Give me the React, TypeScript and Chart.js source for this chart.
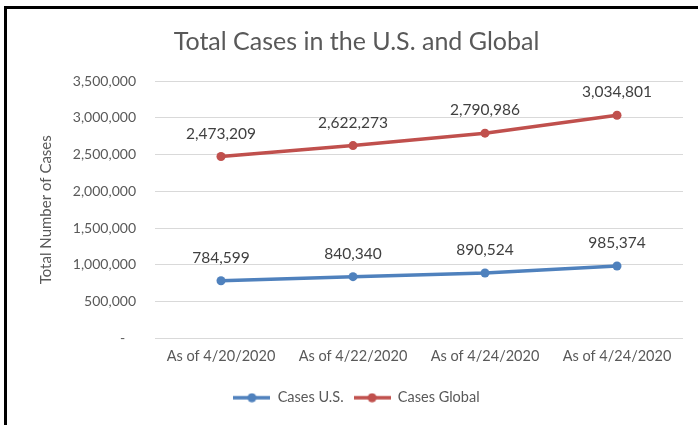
import React, { useEffect, useRef } from "react";
import { Chart, registerables } from "chart.js";

Chart.register(...registerables);

const categories = ["As of 4/20/2020", "As of 4/22/2020", "As of 4/24/2020", "As of 4/24/2020"];
const casesUS = [784599, 840340, 890524, 985374];
const casesGlobal = [2473209, 2622273, 2790986, 3034801];
const seriesNames = ["Cases U.S.", "Cases Global"];
const seriesColors = ["#4F81BD", "#C0504D"];
const chartTitle = "Total Cases in the U.S. and Global";
const yTitle = "Total Number of Cases";

const FONT = "Lato, 'Open Sans', sans-serif";

function makeMarker(color: string): HTMLCanvasElement {
  const c = document.createElement("canvas");
  c.width = 37;
  c.height = 10;
  const ctx = c.getContext("2d")!;
  ctx.strokeStyle = color;
  ctx.lineWidth = 3.5;
  ctx.beginPath();
  ctx.moveTo(0, 5);
  ctx.lineTo(37, 5);
  ctx.stroke();
  ctx.fillStyle = color;
  ctx.beginPath();
  ctx.arc(18.5, 5, 4.5, 0, Math.PI * 2);
  ctx.fill();
  return c;
}

const fmt = (v: number) => v.toLocaleString("en-US");

export default function App() {
  const ref = useRef<HTMLCanvasElement | null>(null);

  useEffect(() => {
    if (!ref.current) return;
    const markers = seriesColors.map(makeMarker);

    const borderPlugin = {
      id: "frameBorder",
      afterDraw(chart: any) {
        const ctx = chart.ctx;
        ctx.save();
        ctx.fillStyle = "#000";
        ctx.fillRect(4, 6, 694, 3);
        ctx.fillRect(4, 6, 3, 419);
        ctx.restore();
      },
    };

    const labelPlugin = {
      id: "dataLabels",
      afterDatasetsDraw(chart: any) {
        const ctx = chart.ctx;
        ctx.save();
        ctx.font = `15.5px ${FONT}`;
        ctx.fillStyle = "#404040";
        ctx.textAlign = "center";
        ctx.textBaseline = "middle";
        chart.data.datasets.forEach((ds: any, i: number) => {
          const meta = chart.getDatasetMeta(i);
          meta.data.forEach((pt: any, j: number) => {
            ctx.fillText(fmt(ds.data[j]), pt.x, pt.y - 23);
          });
        });
        ctx.restore();
      },
    };

    const chart = new Chart(ref.current, {
      type: "line",
      data: {
        labels: categories,
        datasets: [
          {
            label: seriesNames[0],
            data: casesUS,
            borderColor: seriesColors[0],
            backgroundColor: seriesColors[0],
            borderWidth: 3.5,
            pointRadius: 4.5,
            pointBorderWidth: 0,
            pointStyle: "circle",
          },
          {
            label: seriesNames[1],
            data: casesGlobal,
            borderColor: seriesColors[1],
            backgroundColor: seriesColors[1],
            borderWidth: 3.5,
            pointRadius: 4.5,
            pointBorderWidth: 0,
            pointStyle: "circle",
          },
        ],
      },
      options: {
        responsive: false,
        animation: false,
        layout: { padding: { left: 30, right: 15, top: 27, bottom: 10 } },
        plugins: {
          title: {
            display: true,
            text: chartTitle,
            color: "#595959",
            font: { family: FONT, size: 25, weight: "normal" },
            padding: { top: 0, bottom: 24 },
          },
          legend: {
            position: "bottom",
            labels: {
              usePointStyle: true,
              pointStyleWidth: 37,
              boxHeight: 10,
              color: "#595959",
              font: { family: FONT, size: 14.5 },
              padding: 10,
              generateLabels: (ch: any) =>
                ch.data.datasets.map((ds: any, i: number) => ({
                  text: ds.label,
                  pointStyle: markers[i],
                  fillStyle: seriesColors[i],
                  strokeStyle: seriesColors[i],
                  lineWidth: 0,
                  hidden: false,
                  datasetIndex: i,
                  fontColor: "#595959",
                })),
            },
          },
          tooltip: { enabled: false },
        },
        scales: {
          x: {
            offset: true,
            grid: { display: false, drawTicks: false },
            border: { display: false },
            afterFit: (scale: any) => {
              scale.height = 42;
            },
            ticks: {
              color: "#595959",
              font: { family: FONT, size: 14.5 },
              padding: 9,
              maxRotation: 0,
              autoSkip: false,
            },
          },
          y: {
            min: 0,
            max: 3500000,
            grid: { color: "#d9d9d9", drawTicks: false, lineWidth: 1 },
            border: { display: false },
            afterFit: (scale: any) => {
              scale.width = 125;
            },
            ticks: {
              stepSize: 500000,
              color: "#595959",
              font: { family: FONT, size: 14 },
              padding: 19,
              callback: (v: any) => (Number(v) === 0 ? "-   " : fmt(Number(v))),
            },
            title: {
              display: true,
              text: yTitle,
              color: "#595959",
              font: { family: FONT, size: 15 },
              padding: { top: 7, bottom: 0 },
            },
          },
        },
      },
      plugins: [labelPlugin, borderPlugin],
    } as any);

    return () => chart.destroy();
  }, []);

  return (
    <div style={{ position: "fixed", left: 0, top: 0, width: 698, height: 425, background: "#fff" }}>
      <canvas ref={ref} width={698} height={425} style={{ display: "block" }} />
    </div>
  );
}
